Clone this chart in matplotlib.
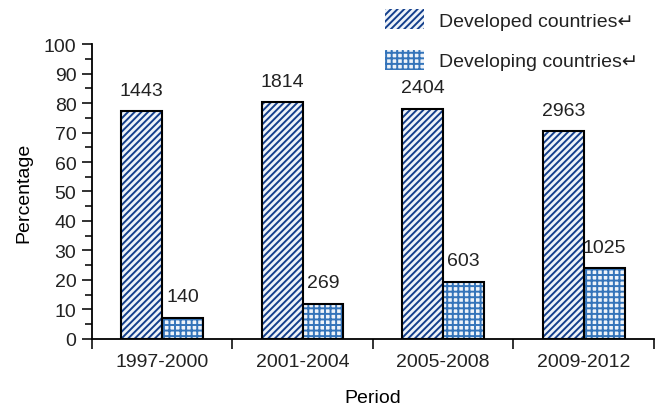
import matplotlib.pyplot as plt
import numpy as np
from matplotlib.patches import Patch
from matplotlib.ticker import MultipleLocator

plt.rcParams["font.family"] = ["Liberation Sans", "DejaVu Sans"]
plt.rcParams["hatch.linewidth"] = 1.4
plt.rcParams["text.color"] = "#222222"
plt.rcParams["xtick.color"] = "#222222"
plt.rcParams["ytick.color"] = "#222222"

periods = ["1997-2000", "2001-2004", "2005-2008", "2009-2012"]
developed_pct = [77.2, 80.3, 78.0, 70.4]
developing_pct = [7.1, 11.9, 19.3, 24.0]
developed_n = [1443, 1814, 2404, 2963]
developing_n = [140, 269, 603, 1025]

hatch_blue = "#143f8c"
grid_blue = "#3474ba"
fill_light = "#eef3f9"
fs = 14

fig = plt.figure(figsize=(6.6, 4.1), dpi=100)
ax = fig.add_axes([0.139, 0.171, 0.852, 0.719])

x = np.arange(len(periods))
w = 0.29


def hatched_bars(xpos, vals, hatch, hcolor):
    # hatch pass in colour, then a black outline on top
    ax.bar(xpos, vals, w, color=fill_light, edgecolor=hcolor, hatch=hatch, linewidth=0)
    ax.bar(xpos, vals, w, fill=False, edgecolor="black", linewidth=1.5)


hatched_bars(x - w / 2, developed_pct, "/////", hatch_blue)
hatched_bars(x + w / 2, developing_pct, "+++", grid_blue)

for xi, v, n in zip(x - w / 2, developed_pct, developed_n):
    ax.annotate(str(n), (xi, v), xytext=(0, 9), textcoords="offset points",
                ha="center", va="bottom", fontsize=fs)
for xi, v, n in zip(x + w / 2, developing_pct, developing_n):
    ax.annotate(str(n), (xi, v), xytext=(0, 9), textcoords="offset points",
                ha="center", va="bottom", fontsize=fs)

ax.set_xlim(-0.5, len(periods) - 0.5)
ax.set_ylim(0, 100)
ax.yaxis.set_major_locator(MultipleLocator(10))
ax.yaxis.set_minor_locator(MultipleLocator(5))
ax.tick_params(axis="y", which="major", length=7, width=1.3, labelsize=fs, pad=4)
ax.tick_params(axis="y", which="minor", length=5, width=1.3)

# category boundaries get the tick marks, names sit between them
ax.set_xticks(np.arange(len(periods) + 1) - 0.5)
ax.set_xticklabels([])
ax.set_xticks(x, minor=True)
ax.set_xticklabels(periods, minor=True, fontsize=fs)
ax.tick_params(axis="x", which="major", length=7.5, width=1.3)
ax.tick_params(axis="x", which="minor", length=0, pad=10)

for side in ("top", "right"):
    ax.spines[side].set_visible(False)
for side in ("left", "bottom"):
    ax.spines[side].set_linewidth(1.3)

ax.set_xlabel("Period", fontsize=fs, labelpad=14)
ax.set_ylabel("Percentage", fontsize=fs, labelpad=8)

handles = [
    Patch(facecolor=fill_light, edgecolor=hatch_blue, hatch="/////", linewidth=0),
    Patch(facecolor=fill_light, edgecolor=grid_blue, hatch="+++", linewidth=0),
]
fig.legend(handles, ["Developed countries\u21b5", "Developing countries\u21b5"],
           loc="upper left", bbox_to_anchor=(385 / 660, 1 - 10 / 410), frameon=False,
           fontsize=fs, handlelength=2.0, handleheight=1.2, borderpad=0,
           borderaxespad=0, labelspacing=1.05, handletextpad=0.8)

fig.savefig("out.png", dpi=100)
